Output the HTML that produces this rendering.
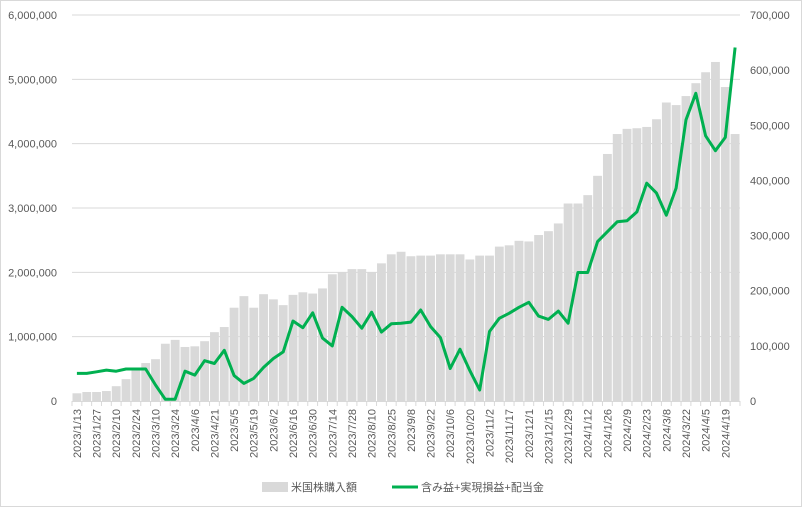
<!DOCTYPE html>
<html><head><meta charset="utf-8"><style>
body{margin:0;background:#fff;}
svg{display:block;font-family:"Liberation Sans","Noto Sans CJK JP",sans-serif;}
</style></head><body>
<svg id="chart" width="802" height="507">
<rect x="0.5" y="0.5" width="801" height="506" fill="#fff" stroke="#d9d9d9"/>
<g id="grid"></g><g id="bars"></g><g id="axes"></g><g id="line"></g>
<g>
<rect x="262" y="482" width="26" height="10" fill="#d9d9d9"/>
<text x="291" y="491" font-size="11" fill="#595959">米国株購入額</text>
<line x1="392" y1="487" x2="418" y2="487" stroke="#00b050" stroke-width="3"/>
<text x="421" y="491" font-size="11" fill="#595959">含み益+実現損益+配当金</text>
</g>
</svg>
<script>
const labels=["2023/1/13","2023/1/27","2023/2/10","2023/2/24","2023/3/10","2023/3/24","2023/4/6","2023/4/21","2023/5/5","2023/5/19","2023/6/2","2023/6/16","2023/6/30","2023/7/14","2023/7/28","2023/8/10","2023/8/25","2023/9/8","2023/9/22","2023/10/6","2023/10/20","2023/11/2","2023/11/17","2023/12/1","2023/12/15","2023/12/29","2024/1/12","2024/1/26","2024/2/9","2024/2/23","2024/3/8","2024/3/22","2024/4/5","2024/4/19"];
const purchase=[120000,140000,140000,155000,230000,340000,480000,590000,650000,890000,950000,840000,850000,930000,1070000,1150000,1450000,1630000,1450000,1660000,1580000,1490000,1650000,1690000,1670000,1750000,1970000,2000000,2050000,2050000,2000000,2140000,2280000,2320000,2250000,2260000,2260000,2280000,2280000,2280000,2200000,2260000,2260000,2400000,2420000,2490000,2480000,2580000,2640000,2760000,3070000,3070000,3200000,3500000,3840000,4150000,4230000,4240000,4260000,4380000,4640000,4600000,4740000,4940000,5110000,5270000,4880000,4150000];
const profit=[50000,50000,53000,56000,54000,58000,58000,58000,29000,3000,3000,54000,47000,73000,68000,92000,46000,32000,41000,61000,77000,89000,145000,133000,160000,114000,100000,170000,153000,132000,161000,125000,140000,141000,143000,165000,135000,115000,59000,94000,55000,20000,126000,150000,159000,170000,179000,154000,148000,163000,141000,233000,233000,289000,307000,325000,327000,343000,395000,377000,337000,386000,510000,558000,481000,454000,478000,641000];
const leftTicks=[0,1000000,2000000,3000000,4000000,5000000,6000000];
const rightTicks=[0,100000,200000,300000,400000,500000,600000,700000];
const X0=72,X1=740,Y0=401,Y1=15,LMAX=6000000,RMAX=700000;
const n=purchase.length,bw=(X1-X0)/n;
const xC=i=>X0+bw*(i+0.5);
const yL=v=>Y0-(Y0-Y1)*v/LMAX;
const yR=v=>Y0-(Y0-Y1)*v/RMAX;
const NS="http://www.w3.org/2000/svg";
function mk(tag,attrs,parent,txt){const e=document.createElementNS(NS,tag);for(const k in attrs)e.setAttribute(k,attrs[k]);if(txt!=null)e.textContent=txt;document.getElementById(parent).appendChild(e);return e;}
const fmt=v=>v.toLocaleString('en-US');
leftTicks.forEach(v=>{
  if(v>0){const g=mk('line',{x1:X0,x2:X1,y1:yL(v),y2:yL(v),stroke:'#d9d9d9'},'grid');
  
  }
  const t=mk('text',{x:57,y:yL(v)+4,'text-anchor':'end','font-size':11,fill:'#595959'},'axes',fmt(v));
  
  
});
rightTicks.forEach(v=>{
  const t=mk('text',{x:750,y:yR(v)+4,'font-size':11,fill:'#595959'},'axes',fmt(v));
  
  
});
purchase.forEach((v,i)=>{
  const r=mk('rect',{x:X0+bw*i+0.5,y:yL(v),width:bw-1,height:Y0-yL(v),fill:'#d9d9d9'},'bars');
  
  
});
const ax=mk('line',{x1:X0,x2:X1,y1:Y0+0.5,y2:Y0+0.5,stroke:'#d9d9d9'},'axes');


for(let i=0;i<=n;i++){const tk=mk('line',{x1:X0+bw*i,x2:X0+bw*i,y1:Y0,y2:Y0+5,stroke:'#d9d9d9'},'axes');

}
labels.forEach((s,k)=>{
  const x=xC(k*2)+4,y=409;
  const t=mk('text',{x:x,y:y,transform:`rotate(-90 ${x} ${y})`,'text-anchor':'end','font-size':11,fill:'#595959'},'axes',s);
  
  
});
const pts=profit.map((v,i)=>xC(i).toFixed(1)+','+yR(v).toFixed(1)).join(' ');
const pl=mk('polyline',{points:pts,fill:'none',stroke:'#00b050','stroke-width':3,'stroke-linejoin':'round'},'line');


</script>
</body></html>
